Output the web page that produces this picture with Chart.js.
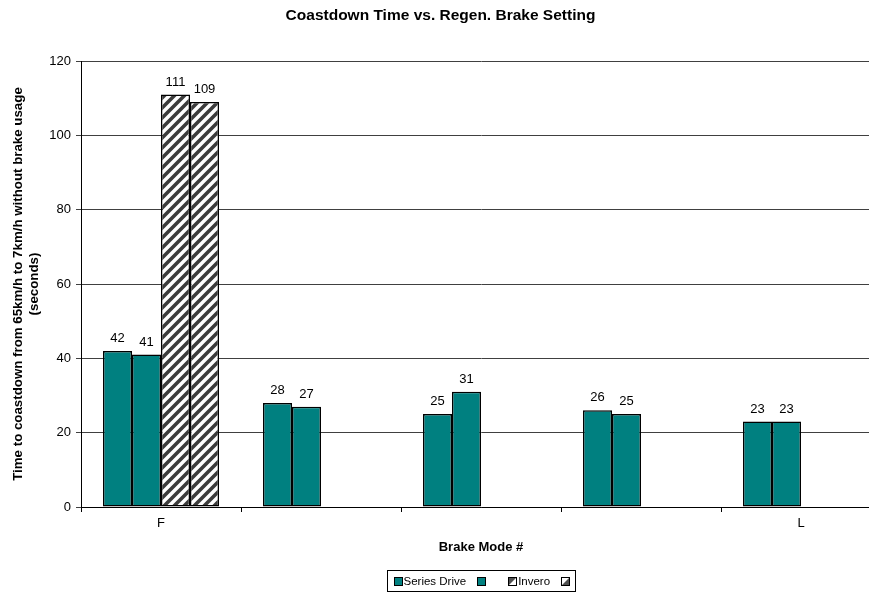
<!DOCTYPE html>
<html>
<head>
<meta charset="utf-8">
<title>Coastdown Time vs. Regen. Brake Setting</title>
<script src="https://cdn.jsdelivr.net/npm/chart.js@4/dist/chart.umd.min.js"></script>
<style>
  html, body { margin: 0; padding: 0; background: #ffffff; overflow: hidden; }
  #wrap { width: 882px; height: 592px; }
</style>
</head>
<body>
<div id="wrap"><canvas id="chart" width="882" height="592"></canvas></div>
<script>
// Brake modes (only the first and last are labelled)
const categories = ['F', '', '', '', 'L'];

// Coastdown time in seconds, 65 km/h -> 7 km/h
const seriesDriveA = [42, 28, 25, 26, 23];
const seriesDriveB = [41, 27, 31, 25, 23];
const inveroA = [111, null, null, null, null];
const inveroB = [109, null, null, null, null];

const seriesLabels = ['Series Drive', '', 'Invero', ''];
const yTicks = [0, 20, 40, 60, 80, 100, 120];

const FONT = 'Arial, "Liberation Sans", Helvetica, sans-serif';
const TEAL = '#008080';

const canvas = document.getElementById('chart');
const ctx = canvas.getContext('2d');

// diagonal stripe fill for the Invero bars
function stripePattern() {
  const s = 10;
  const tile = document.createElement('canvas');
  tile.width = s; tile.height = s;
  const g = tile.getContext('2d');
  g.fillStyle = '#ffffff';
  g.fillRect(0, 0, s, s);
  g.strokeStyle = '#3c3c3c';
  g.lineWidth = 3.6;
  g.lineCap = 'square';
  g.beginPath();
  g.moveTo(-3, s + 3); g.lineTo(s + 3, -3);
  g.moveTo(-3, 3); g.lineTo(3, -3);
  g.moveTo(s - 3, s + 3); g.lineTo(s + 3, s - 3);
  g.stroke();
  return ctx.createPattern(tile, 'repeat');
}
const stripes = stripePattern();

// value labels above each bar
const valueLabels = {
  id: 'valueLabels',
  afterDatasetsDraw(chart) {
    const c = chart.ctx;
    c.save();
    c.font = '13px ' + FONT;
    c.fillStyle = '#000000';
    c.textAlign = 'center';
    c.textBaseline = 'bottom';
    chart.data.datasets.forEach((ds, di) => {
      const meta = chart.getDatasetMeta(di);
      meta.data.forEach((bar, i) => {
        const v = ds.data[i];
        if (v === null || v === undefined) return;
        c.fillText(String(v), bar.x, bar.y - 6);
      });
    });
    c.restore();
  }
};

// framed legend row beneath the axis title
const framedLegend = {
  id: 'framedLegend',
  afterDraw(chart) {
    const c = chart.ctx;
    const area = chart.chartArea;
    c.save();
    c.font = '11.5px ' + FONT;
    const box = 8, gapText = 2, gapAfterText = 11, gapAfterBox = 23, pad = 6;
    const items = chart.data.datasets.map((ds, i) => {
      const w = ds.label ? box + gapText + c.measureText(ds.label).width : box;
      return { ds, i, w };
    });
    let total = pad * 2;
    items.forEach((it, k) => {
      total += it.w;
      if (k < items.length - 1) total += it.ds.label ? gapAfterText : gapAfterBox;
    });
    const cx = (area.left + area.right) / 2;
    const x0 = Math.round(cx - total / 2) + 0.5;
    const top = 570.5, h = 21;
    c.strokeStyle = '#000000';
    c.lineWidth = 1;
    c.strokeRect(x0, top, Math.round(total), h);
    const cy = top + h / 2;
    let x = x0 + pad;
    items.forEach((it) => {
      const bx = Math.round(x) + 0.5, by = Math.round(cy - box / 2) + 0.5;
      if (it.i < 2) {
        c.fillStyle = TEAL;
        c.fillRect(bx, by, box, box);
      } else {
        c.fillStyle = '#ffffff';
        c.fillRect(bx, by, box, box);
        c.fillStyle = '#505050';
        c.beginPath();
        if (it.i === 2) {
          c.moveTo(bx, by); c.lineTo(bx + box, by); c.lineTo(bx, by + box);
        } else {
          c.moveTo(bx + box, by); c.lineTo(bx + box, by + box); c.lineTo(bx, by + box);
        }
        c.closePath();
        c.fill();
      }
      c.strokeStyle = '#000000';
      c.strokeRect(bx, by, box, box);
      if (it.ds.label) {
        c.fillStyle = '#000000';
        c.textAlign = 'left';
        c.textBaseline = 'middle';
        c.fillText(it.ds.label, x + box + gapText, cy + 0.5);
      }
      x += it.w + (it.ds.label ? gapAfterText : gapAfterBox);
    });
    c.restore();
  }
};

function barSet(label, data, fill) {
  return {
    label: label,
    data: data,
    backgroundColor: fill,
    borderColor: '#000000',
    borderWidth: 1.5,
    borderSkipped: false,
    barPercentage: 1.0,
    categoryPercentage: 0.725
  };
}

new Chart(ctx, {
  type: 'bar',
  data: {
    labels: categories,
    datasets: [
      barSet(seriesLabels[0], seriesDriveA, TEAL),
      barSet(seriesLabels[1], seriesDriveB, TEAL),
      barSet(seriesLabels[2], inveroA, stripes),
      barSet(seriesLabels[3], inveroB, stripes)
    ]
  },
  options: {
    responsive: false,
    animation: false,
    devicePixelRatio: 1,
    layout: { padding: { left: 0, right: 1, top: 0, bottom: 37 } },
    plugins: {
      legend: { display: false },
      tooltip: { enabled: false },
      title: {
        display: true,
        text: 'Coastdown Time vs. Regen. Brake Setting',
        color: '#000000',
        font: { family: FONT, size: 15.5, weight: 'bold' },
        padding: { top: 6, bottom: 36.4 }
      }
    },
    scales: {
      x: {
        offset: true,
        grid: {
          offset: true,
          drawOnChartArea: false,
          drawTicks: true,
          tickLength: 5,
          color: '#000000'
        },
        border: { color: '#000000', width: 1 },
        ticks: {
          color: '#000000',
          font: { family: FONT, size: 13 },
          padding: 4,
          maxRotation: 0,
          autoSkip: false
        },
        title: {
          display: true,
          text: 'Brake Mode #',
          color: '#000000',
          font: { family: FONT, size: 13, weight: 'bold' },
          padding: { top: 0, bottom: 0 }
        },
        afterFit(scale) { scale.height = 48; }
      },
      y: {
        min: 0,
        max: 120,
        afterBuildTicks(scale) { scale.ticks = yTicks.map(v => ({ value: v })); },
        grid: {
          color: '#404040',
          tickLength: 5,
          drawTicks: true
        },
        border: { color: '#000000', width: 1 },
        ticks: {
          color: '#000000',
          font: { family: FONT, size: 13 },
          padding: 5
        },
        title: {
          display: true,
          text: ['Time to coastdown from 65km/h to 7km/h without brake usage', '(seconds)'],
          color: '#000000',
          font: { family: FONT, size: 13.3, weight: 'bold' },
          padding: { top: 10, bottom: 0 }
        },
        afterFit(scale) { scale.width = 81; }
      }
    }
  },
  plugins: [valueLabels, framedLegend]
});
</script>
</body>
</html>
